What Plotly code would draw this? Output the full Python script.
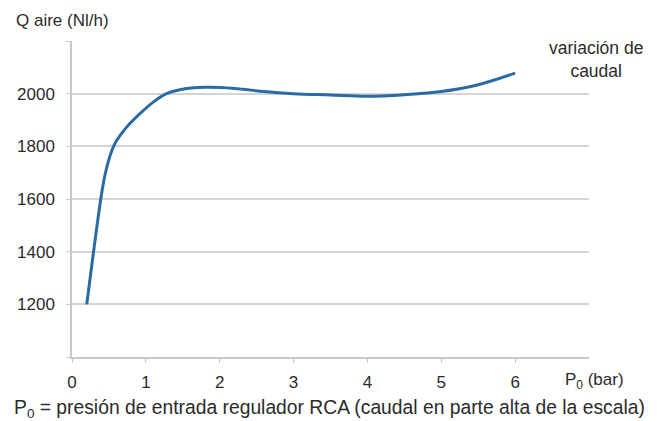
import plotly.graph_objects as go

# Data
presion_bar = [0.2, 0.39, 0.45, 0.54, 0.6, 0.74, 0.92, 1.1, 1.28, 1.46, 1.8, 2.2, 2.6, 3.0, 3.5, 4.0, 4.5, 5.0, 5.5, 6.0]
q_aire = [1200, 1600, 1696, 1784, 1820, 1873, 1924, 1968, 2000, 2015, 2024, 2020, 2008, 2000, 1995, 1990, 1996, 2008, 2034, 2078]

x_ticks = [0, 1, 2, 3, 4, 5, 6]
y_ticks = [1000, 1200, 1400, 1600, 1800, 2000, 2200]
y_ticktext = ["", "1200", "1400", "1600", "1800", "2000", ""]

FONT = "Liberation Sans, Arial, sans-serif"
TXT = "#2b2b2b"

fig = go.Figure()
fig.add_trace(go.Scatter(
    x=presion_bar, y=q_aire, mode="lines",
    line=dict(color="#2a6ba3", width=3, shape="spline", smoothing=1.0),
    hoverinfo="x+y", showlegend=False,
))

fig.update_layout(
    width=662, height=421,
    margin=dict(l=72, r=73, t=41, b=64),
    paper_bgcolor="white", plot_bgcolor="white",
    font=dict(family=FONT, size=17, color=TXT),
    xaxis=dict(
        range=[0, 7], tickvals=x_ticks, showgrid=False, zeroline=False,
        showline=True, linecolor="#c8c8c8", linewidth=1.5,
        ticks="outside", ticklen=4, tickcolor="#c8c8c8",
        ticklabelstandoff=5, tickfont=dict(size=17, color=TXT),
    ),
    yaxis=dict(
        range=[1000, 2200], tickvals=y_ticks, ticktext=y_ticktext,
        showgrid=True, gridcolor="#d4d4d4", gridwidth=1.5, zeroline=False,
        showline=True, linecolor="#c8c8c8", linewidth=1.5,
        ticks="outside", ticklen=4, tickcolor="#c8c8c8",
        ticklabelstandoff=8, tickfont=dict(size=17, color=TXT),
    ),
    shapes=[dict(type="rect", xref="paper", yref="paper", x0=0.882, x1=1.05, y0=0.97, y1=1.03,
                 fillcolor="white", line=dict(width=0), layer="above")],
    annotations=[
        dict(text="Q aire (Nl/h)", xref="paper", yref="paper", x=-0.112, y=1.066,
             xanchor="left", yanchor="middle", showarrow=False, font=dict(size=17, color=TXT)),
        dict(text="variación de<br>caudal", xref="paper", yref="paper", x=1.013, y=0.943,
             xanchor="center", yanchor="middle", showarrow=False, font=dict(size=17.5, color=TXT)),
        dict(text="P<sub>0</sub> (bar)", xref="paper", yref="paper", x=1.01, y=-0.076,
             xanchor="center", yanchor="middle", showarrow=False, font=dict(size=17, color=TXT)),
        dict(text="P<sub>0</sub> = presión de entrada regulador RCA (caudal en parte alta de la escala)",
             xref="paper", yref="paper", x=-0.116, y=-0.163,
             xanchor="left", yanchor="middle", showarrow=False, font=dict(size=19.3, color=TXT)),
    ],
)

fig.write_html("out.html", config={"displayModeBar": False},
               post_script="document.body.style.margin='0';document.body.style.padding='0';")
